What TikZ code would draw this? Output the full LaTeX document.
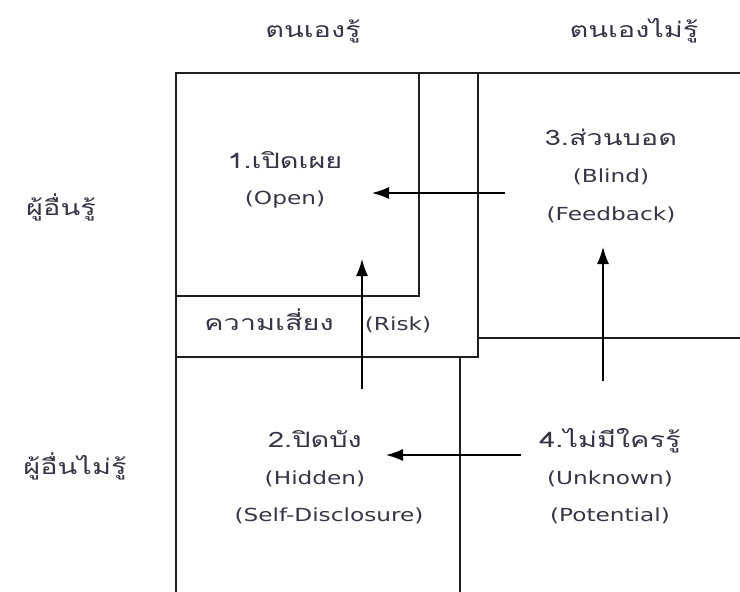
\documentclass[tikz,border=0pt]{standalone}
\usepackage{fontspec}
\usepackage{graphicx}
\setmainfont{DejaVu Sans}
\newfontfamily\thaifont[Script=Thai,Scale=1.18]{Loma}
\newcommand\thx[1]{\scalebox{1.36}[1]{\thaifont #1}}
\newcommand\lat[1]{\scalebox{1.29}[1]{#1}}
\usetikzlibrary{arrows.meta}
\definecolor{txt}{HTML}{363646}
\tikzset{
  wall/.style={line width=2.9pt, draw=black!88, line cap=rect},
  lbl/.style={text=txt, font=\fontsize{18}{21}\selectfont, inner sep=0pt, anchor=base},
  arr/.style={line width=1.4pt, draw=black, -{Latex[length=17pt,width=12pt]}}
}
\begin{document}
\begin{tikzpicture}[x=1pt,y=-1pt]
\useasboundingbox (0,0) rectangle (740,592);
% structure lines
\draw[wall] (740,73) -- (176,73) -- (176,592);
\draw[wall] (419,73) -- (419,296) -- (176,296);
\draw[wall] (478,73) -- (478,357) -- (176,357);
\draw[wall] (478,338) -- (740,338);
\draw[wall] (460,357) -- (460,592);
% header labels
\node[lbl] (hk) at (313,37) {\thx{ตนเองรู้}};
\node[lbl] (hu) at (634,37) {\thx{ตนเองไม่รู้}};
\node[lbl] (ok) at (61,215) {\thx{ผู้อื่นรู้}};
\node[lbl] (ou) at (75,474) {\thx{ผู้อื่นไม่รู้}};
% quadrant labels
\node[lbl] (q1a) at (285,168) {\thx{1.เปิดเผย}};
\node[lbl] (q1b) at (285,204) {\lat{(Open)}};
\node[lbl] (q3a) at (611,145) {\thx{3.ส่วนบอด}};
\node[lbl] (q3b) at (611,182) {\lat{(Blind)}};
\node[lbl] (q3c) at (611,220) {\lat{(Feedback)}};
\node[lbl] (r1) at (269,330) {\thx{ความเสี่ยง}};
\node[lbl] (r2) at (398,330) {\lat{(Risk)}};
\node[lbl] (q2a) at (315,447) {\thx{2.ปิดบัง}};
\node[lbl] (q2b) at (315,484) {\lat{(Hidden)}};
\node[lbl] (q2c) at (329,521) {\lat{(Self-Disclosure)}};
\node[lbl] (q4a) at (610,447) {\thx{4.ไม่มีใครรู้}};
\node[lbl] (q4b) at (610,484) {\lat{(Unknown)}};
\node[lbl] (q4c) at (610,521) {\lat{(Potential)}};
% arrows
\coordinate (a1s) at (505,193); \coordinate (a1e) at (372,193);
\coordinate (a2s) at (362,389); \coordinate (a2e) at (362,259);
\coordinate (a3s) at (603,381); \coordinate (a3e) at (603,247);
\coordinate (a4s) at (521,455); \coordinate (a4e) at (386,455);
\draw[arr] (a1s) -- (a1e);
\draw[arr] (a2s) -- (a2e);
\draw[arr] (a3s) -- (a3e);
\draw[arr] (a4s) -- (a4e);
\end{tikzpicture}
\end{document}
